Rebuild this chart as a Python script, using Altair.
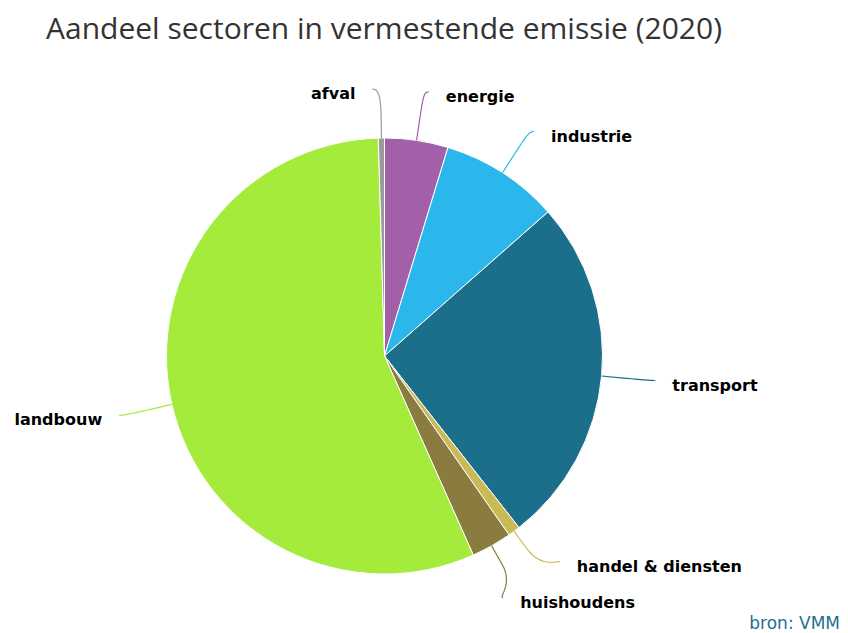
import altair as alt
import pandas as pd
import numpy as np

# ---- data ----
sectors = ["energie", "industrie", "transport", "handel & diensten",
           "huishoudens", "landbouw", "afval"]
shares = [4.7, 8.8, 25.9, 0.9, 3.0, 56.2, 0.45]
colors = ["#a35fa7", "#2bb7eb", "#1b6f8b", "#c9ba55",
          "#8a7b3e", "#a4eb3c", "#9a9a9a"]
title_text = "Aandeel sectoren in vermestende emissie (2020)"
source_text = ["bron: VMM"]

# ---- layout parameters ----
PAD_TOP = 7
W, H = 832, 575
T = 37                               # height taken by the title block
CX, CY = 376.5, 355 - 8 - PAD_TOP - T  # pie centre in plot coordinates
R = 218                    # pie radius
L = R + 49                 # radius where connectors end
BRK = R + 22               # connector break radius
EXT = 5                    # extra horizontal reach of connectors
GAP = 17                   # gap between connector end and label
MIN_DY = 36                # minimum vertical spacing between labels on a side
MIN_DX = 12                # minimum horizontal distance of connector end from centre

df = pd.DataFrame({"sector": sectors, "share": shares, "idx": range(len(sectors))})

# derived label geometry (from the values)
vals = np.array(shares, dtype=float)
frac = vals / vals.sum()
cum = np.cumsum(frac)
mid = (cum - frac / 2) * 2 * np.pi
ux, uy = np.sin(mid), -np.cos(mid)
side = np.where(ux >= 0, 1, -1)
ey = CY + L * uy
for s in (1, -1):
    ids = sorted([i for i in range(len(vals)) if side[i] == s], key=lambda i: ey[i])
    for a, b in zip(ids, ids[1:]):
        gap = ey[b] - ey[a]
        if gap < MIN_DY:
            sh = (MIN_DY - gap) / 2
            ey[a] -= sh
            ey[b] += sh
dy = ey - CY
ex = CX + side * np.maximum(np.sqrt(np.maximum(L ** 2 - dy ** 2, 0)) + EXT, MIN_DX)

rows = []
for i in range(len(vals)):
    E = np.array([ex[i], ey[i]])
    P0 = np.array([CX + R * ux[i], CY + R * uy[i]])
    B = np.array([CX + BRK * ux[i], CY + BRK * uy[i]])
    C1 = E + np.array([-5 * side[i], 0])
    C2 = 2 * B - P0
    k = 0
    for t in np.linspace(0, 1, 16):
        p = (1 - t) ** 3 * E + 3 * (1 - t) ** 2 * t * C1 + 3 * (1 - t) * t ** 2 * C2 + t ** 3 * B
        rows.append({"sector": sectors[i], "k": k, "x": p[0], "y": p[1]})
        k += 1
    rows.append({"sector": sectors[i], "k": k, "x": P0[0], "y": P0[1]})
lines = pd.DataFrame(rows)

labels = pd.DataFrame({
    "sector": sectors,
    "x": ex + side * GAP,
    "y": ey + 5,
    "side": side,
})

color_scale = alt.Scale(domain=sectors, range=colors)

pie = alt.Chart(df).mark_arc(outerRadius=R, stroke="white", strokeWidth=1).encode(
    theta=alt.Theta("share:Q", stack=True),
    order=alt.Order("idx:Q"),
    color=alt.Color("sector:N", scale=color_scale, legend=None),
    x=alt.value(CX),
    y=alt.value(CY),
)

conn = alt.Chart(lines).mark_line(strokeWidth=1.2).encode(
    x=alt.X("x:Q", scale=None, axis=None),
    y=alt.Y("y:Q", scale=None, axis=None),
    color=alt.Color("sector:N", scale=color_scale, legend=None),
    detail="sector:N",
    order="k:Q",
)

txt_right = alt.Chart(labels).transform_filter("datum.side > 0").mark_text(
    align="left", baseline="middle", font="DejaVu Sans", fontWeight="bold",
    fontSize=16, color="#000000",
).encode(
    x=alt.X("x:Q", scale=None, axis=None),
    y=alt.Y("y:Q", scale=None, axis=None),
    text="sector:N",
)

txt_left = alt.Chart(labels).transform_filter("datum.side < 0").mark_text(
    align="right", baseline="middle", font="DejaVu Sans", fontWeight="bold",
    fontSize=16, color="#000000",
).encode(
    x=alt.X("x:Q", scale=None, axis=None),
    y=alt.Y("y:Q", scale=None, axis=None),
    text="sector:N",
)

src = alt.Chart(pd.DataFrame({"t": source_text})).mark_text(
    align="right", baseline="middle", font="DejaVu Sans", fontSize=17,
    color="#1f6f8f",
).encode(
    x=alt.value(832),
    y=alt.value(623 - 8 - PAD_TOP - T),
    text="t:N",
)

chart = alt.layer(pie, conn, txt_right, txt_left, src).properties(
    width=W,
    height=H,
    padding={"left": 0, "top": PAD_TOP, "right": 0, "bottom": 0},
    title=alt.TitleParams(
        title_text, anchor="start", dx=38, fontSize=30, font="Open Sans",
        fontWeight="normal", color="#333333", offset=8,
    ),
).configure_view(stroke=None)

chart.save("out.html", embed_options={"renderer": "svg", "actions": False})
